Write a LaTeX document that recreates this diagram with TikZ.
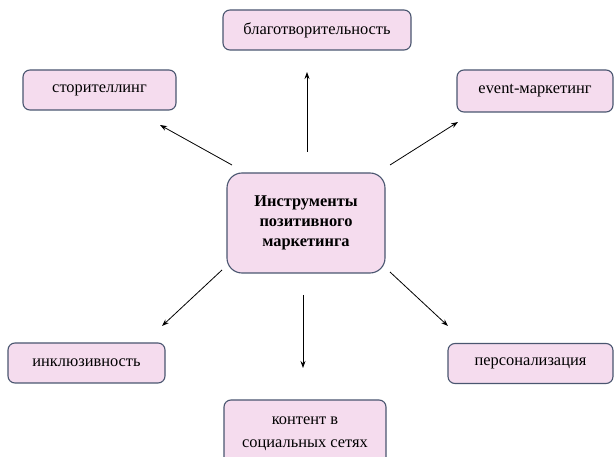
\documentclass[tikz,border=0pt]{standalone}
\usepackage{fontspec}
\setmainfont{Liberation Serif}
\usepackage{xcolor}
\usetikzlibrary{arrows.meta}
\definecolor{boxfill}{HTML}{F5DCEE}
\definecolor{boxline}{HTML}{4A5670}

\begin{document}
\begin{tikzpicture}[x=1pt,y=-1pt,
	tool/.style={fill=boxfill,draw=boxline,line width=1.1pt,rounded corners=7pt,align=center,inner sep=0pt,font=\fontsize{16.4}{23}\selectfont},
	link/.style={color=black,line width=0.8pt,-{Stealth[length=7pt,width=5pt]}}]
					\useasboundingbox (0,0) rectangle (614,457);
					\clip (0,0) rectangle (614,457);
					\coordinate (c1) at (307,152);
					\coordinate (c2) at (232,165);
					\coordinate (c3) at (390,165);
					\coordinate (c4) at (222,270);
					\coordinate (c5) at (303,295);
					\coordinate (c6) at (390,272);
					\coordinate (t1) at (307,72);
					\coordinate (t2) at (160,125);
					\coordinate (t3) at (458,122);
					\coordinate (t4) at (162,326);
					\coordinate (t5) at (303,368);
					\coordinate (t6) at (448,326);
					
					\draw[link] (c1) to[] (t1);
					\draw[link] (c2) to[] (t2);
					\draw[link] (c3) to[] (t3);
					\draw[link] (c4) to[] (t4);
					\draw[link] (c5) to[] (t5);
					\draw[link] (c6) to[] (t6);
					
					\node (main) at (306,223) [tool,rounded corners=15pt,minimum width=158pt,minimum height=100pt,font=\fontsize{16.4}{20}\selectfont\bfseries] {Инструменты\\позитивного\\маркетинга};
					\node (charity) at (317,30) [tool,minimum width=188pt,minimum height=40pt] {благотворительность};
					\node (story) at (99.5,90) [tool,minimum width=153pt,minimum height=40pt] {сторителлинг};
					\node (event) at (535,91) [tool,minimum width=156pt,minimum height=42pt] {event-маркетинг};
					\node (incl) at (86.5,363) [tool,minimum width=157pt,minimum height=40pt] {инклюзивность};
					\node (pers) at (530.5,363.5) [tool,minimum width=165pt,minimum height=40pt] {персонализация};
					\node (content) at (305,434) [tool,minimum width=162pt,minimum height=68pt] {контент в\\социальных сетях};
				\end{tikzpicture}
\end{document}
